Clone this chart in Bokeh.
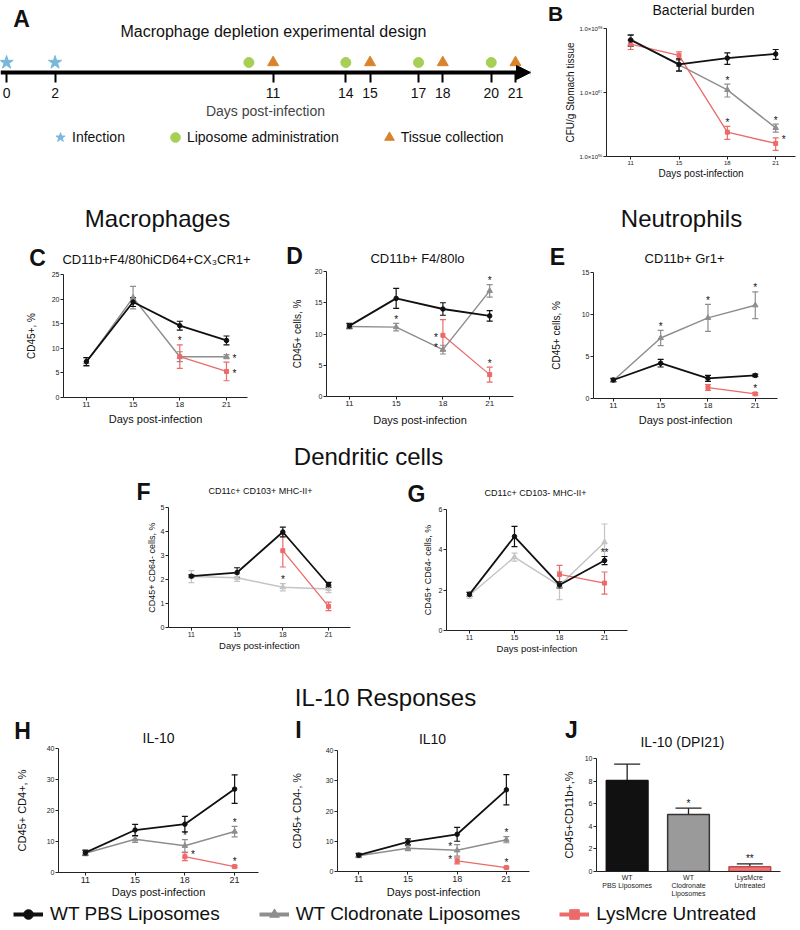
import numpy as np
from bokeh.plotting import figure
from bokeh.layouts import column, row
from bokeh.models import (Range1d, FactorRange, FixedTicker, Whisker, TeeHead,
                          ColumnDataSource, Label, Legend, LegendItem, Arrow,
                          NormalHead, CustomJSTickFormatter)
from bokeh.core.properties import value
from bokeh.embed import file_html
from bokeh.resources import INLINE

FONT = "Liberation Sans"
TXT = "#111111"

# ---------------- data ----------------
DAYS = ["11", "15", "18", "21"]
SERIES = {"PBS": "WT PBS Liposomes", "CLO": "WT Clodronate Liposomes", "LYS": "LysMcre Untreated"}

# A: experimental design (days)
TIMELINE_TICKS = [0, 2, 11, 14, 15, 17, 18, 20, 21]
INFECTION_DAYS = [0, 2]
LIPOSOME_DAYS = [10, 14, 17, 20]
COLLECTION_DAYS = [11, 15, 18, 21]
A_LEGEND = ["Infection", "Liposome administration", "Tissue collection"]

# B: bacterial burden, CFU/g
B_PBS = [6.6e7, 2.75e7, 3.45e7, 4.0e7]
B_PBS_SEM = [1.3e7, 0.6e7, 0.7e7, 0.7e7]
B_CLO = [6.8e7, 2.7e7, 1.1e7, 2.8e6]
B_CLO_SEM = [1.2e7, 0.5e7, 0.25e7, 0.4e6]
B_LYS = [5.7e7, 3.8e7, 2.4e6, 1.6e6]
B_LYS_SEM = [1.0e7, 0.5e7, 0.55e6, 0.35e6]
B_SIG = [("CLO", "18", "top", "*"), ("LYS", "18", "top", "*"),
         ("CLO", "21", "top", "*"), ("LYS", "21", "rtop", "*")]

# C: CD11b+F4/80hiCD64+CX3CR1+
C_PBS = [7.3, 19.4, 14.6, 11.6]
C_PBS_SEM = [0.8, 0.9, 0.9, 0.9]
C_CLO = [7.2, 20.3, 8.3, 8.3]
C_CLO_SEM = [0.9, 2.3, 1.0, 0.4]
C_LYS = [None, None, 8.3, 5.3]
C_LYS_SEM = [None, None, 2.4, 1.9]
C_SIG = [("LYS", "18", "top", "*"), ("CLO", "21", "right", "*"), ("LYS", "21", "right", "*")]

# D: CD11b+ F4/80lo
D_PBS = [11.3, 15.7, 14.0, 12.9]
D_PBS_SEM = [0.4, 1.6, 1.0, 0.85]
D_CLO = [11.2, 11.1, 7.5, 16.9]
D_CLO_SEM = [0.4, 0.6, 0.7, 1.0]
D_LYS = [None, None, 9.8, 3.5]
D_LYS_SEM = [None, None, 2.5, 1.2]
D_SIG = [("CLO", "15", "top", "*"), ("LYS", "18", "left", "*"), ("CLO", "18", "ltop", "*"),
         ("CLO", "21", "top", "*"), ("LYS", "21", "top", "*")]

# E: CD11b+ Gr1+
E_PBS = [2.2, 4.2, 2.4, 2.75]
E_PBS_SEM = [0.2, 0.45, 0.35, 0.15]
E_CLO = [2.15, 7.2, 9.6, 11.1]
E_CLO_SEM = [0.15, 0.9, 1.6, 1.6]
E_LYS = [None, None, 1.3, 0.55]
E_LYS_SEM = [None, None, 0.35, 0.15]
E_SIG = [("CLO", "15", "top", "*"), ("CLO", "18", "top", "*"), ("CLO", "21", "top", "*"),
         ("LYS", "21", "top", "*")]

# F: CD11c+ CD103+ MHC-II+
F_PBS = [2.14, 2.29, 3.98, 1.78]
F_PBS_SEM = [0.05, 0.2, 0.2, 0.1]
F_CLO = [2.12, 2.07, 1.68, 1.6]
F_CLO_SEM = [0.25, 0.15, 0.15, 0.15]
F_LYS = [None, None, 3.2, 0.88]
F_LYS_SEM = [None, None, 0.68, 0.18]
F_SIG = [("CLO", "18", "top", "*")]

# G: CD11c+ CD103- MHC-II+
G_PBS = [1.79, 4.66, 2.26, 3.47]
G_PBS_SEM = [0.1, 0.5, 0.15, 0.2]
G_CLO = [1.75, 3.64, 2.23, 4.38]
G_CLO_SEM = [0.15, 0.2, 0.7, 0.9]
G_LYS = [None, None, 2.78, 2.35]
G_LYS_SEM = [None, None, 0.45, 0.55]
G_SIG = [("PBS", "21", "top", "**")]

# H: IL-10, CD45+ CD4+
H_PBS = [6.4, 13.7, 15.6, 26.9]
H_PBS_SEM = [0.8, 1.8, 2.5, 4.6]
H_CLO = [6.2, 10.7, 8.6, 13.2]
H_CLO_SEM = [0.8, 1.0, 2.0, 1.7]
H_LYS = [None, None, 5.1, 1.9]
H_LYS_SEM = [None, None, 1.3, 0.3]
H_SIG = [("CLO", "18", "top", "*"), ("LYS", "18", "rtop", "*"),
         ("CLO", "21", "top", "*"), ("LYS", "21", "top", "*")]

# I: IL10, CD45+ CD4-
I_PBS = [5.4, 9.8, 12.3, 27.0]
I_PBS_SEM = [0.6, 1.0, 2.3, 5.0]
I_CLO = [5.2, 7.7, 7.0, 10.5]
I_CLO_SEM = [0.6, 0.8, 1.9, 1.0]
I_LYS = [None, None, 3.5, 1.3]
I_LYS_SEM = [None, None, 1.0, 0.2]
I_SIG = [("CLO", "18", "ltop", "*"), ("LYS", "18", "ltop", "*"),
         ("CLO", "21", "top", "*"), ("LYS", "21", "top", "*")]

# J: IL-10 (DPI21)
J_GROUPS = ["WT\nPBS Liposomes", "WT\nClodronate\nLiposomes", "LysMcre\nUntreated"]
J_VALUES = [8.06, 5.05, 0.43]
J_SEM = [1.45, 0.55, 0.24]
J_SIG = ["", "*", "**"]

# ---------------- styles ----------------
COLORS = {"PBS": "#111111", "CLO": "#8e8e8e", "LYS": "#ec6a6a"}
LIGHT_GRAY = "#c4c4c4"
MARKERS = {"PBS": "circle", "CLO": "triangle", "LYS": "square"}
MSIZE = {"PBS": 4.5, "CLO": 5.5, "LYS": 4}
LW = {"PBS": 1.8, "CLO": 1.5, "LYS": 1.3}
BAR_FILL = ["#111111", "#9a9a9a", "#f07373"]
BAR_LINE = ["#111111", "#333333", "#c54848"]
A_COLORS = ["#79b9d8", "#a5cf55", "#d9832c"]
A_MARKERS = ["star", "circle", "triangle"]
A_SIZES = [14, 10, 11]


def make_fig(outer, frame=None, xr=None, yr=None, log=False, axes=True):
    ox, oy, ow, oh = outer
    if frame is None:
        frame = (ox, oy, ox + ow, oy + oh)
    fl, ft, fr, fb = frame
    kw = {}
    if not axes:
        kw = dict(x_axis_location=None, y_axis_location=None)
    p = figure(width=ow, height=oh,
               x_range=xr if xr is not None else Range1d(0, 1),
               y_range=yr if yr is not None else Range1d(0, 1),
               y_axis_type="log" if log else "linear",
               output_backend="svg", toolbar_location=None,
               min_border_left=fl - ox, min_border_right=ox + ow - fr,
               min_border_top=ft - oy, min_border_bottom=oy + oh - fb, **kw)
    p.frame_align = False
    p.outline_line_color = None
    p.grid.visible = False
    return p


def header(outer, texts):
    p = make_fig(outer, axes=False)
    ox, oy, ow, oh = outer
    for X, Y, text, size, bold in texts:
        p.add_layout(Label(x=X - ox, y=oy + oh - Y, x_units="screen", y_units="screen",
                           text=text, text_font=FONT, text_font_size=f"{size}px",
                           text_font_style="bold" if bold else "normal", text_color=TXT,
                           text_align="center", text_baseline="middle"))
    return p


def style_axes(p, xt, yt, xl, yl, xls, yls, ylabel, yticks=None):
    for ax in p.axis:
        ax.axis_line_color = "#222222"
        ax.major_tick_line_color = "#222222"
        ax.minor_tick_line_color = None
        ax.major_tick_in = 0
        ax.major_tick_out = 3
        ax.major_label_standoff = 1
        ax.major_label_text_font = FONT
        ax.major_label_text_color = "#222222"
        ax.axis_label_text_font = FONT
        ax.axis_label_text_font_style = "normal"
        ax.axis_label_text_color = TXT
    p.xaxis.major_label_text_font_size = xt
    p.yaxis.major_label_text_font_size = yt
    p.xaxis.axis_label_text_font_size = xl
    p.yaxis.axis_label_text_font_size = yl
    p.xaxis.axis_label_standoff = xls
    p.yaxis.axis_label_standoff = yls
    p.yaxis.axis_label = ylabel
    if yticks is not None:
        p.yaxis.ticker = FixedTicker(ticks=yticks)


def draw_series(p, key, vals, sems, color):
    idx = [i for i, v in enumerate(vals) if v is not None]
    y = [vals[i] for i in idx]
    e = [sems[i] for i in idx]
    src = ColumnDataSource(dict(x=idx, y=y,
                                lo=[a - b for a, b in zip(y, e)],
                                hi=[a + b for a, b in zip(y, e)]))
    wl = 1.2
    p.add_layout(Whisker(source=src, base="x", upper="hi", lower="lo",
                         line_color=color, line_width=wl,
                         upper_head=TeeHead(size=6, line_color=color, line_width=wl),
                         lower_head=TeeHead(size=6, line_color=color, line_width=wl)))
    p.line("x", "y", source=src, line_color=color, line_width=LW[key])
    p.scatter("x", "y", source=src, marker=MARKERS[key], size=MSIZE[key],
              fill_color=color, line_color=color)


def draw_sig(p, sigs, data, size="10px"):
    xs, ys, xo, yo, tx = [], [], [], [], []
    for key, day, place, t in sigs:
        i = DAYS.index(day)
        m = data[key][0][i]
        e = data[key][1][i]
        if place == "top":
            xs.append(i); ys.append(m + e); xo.append(0); yo.append(-4)
        elif place == "rtop":
            xs.append(i); ys.append(m + e); xo.append(8); yo.append(2)
        elif place == "right":
            xs.append(i); ys.append(m); xo.append(8); yo.append(2)
        elif place == "ltop":
            xs.append(i); ys.append(m + e); xo.append(-7); yo.append(2)
        else:
            xs.append(i); ys.append(m); xo.append(-7); yo.append(2)
        tx.append(t)
    src = ColumnDataSource(dict(x=xs, y=ys, xo=xo, yo=yo, t=tx))
    p.text("x", "y", text="t", x_offset="xo", y_offset="yo", source=src,
           text_font=value(FONT), text_font_size=size, text_align="center",
           text_baseline="middle", text_color=TXT)


def line_panel(outer, frame, xr, yr, ylabel, data, sigs, yticks, gray=COLORS["CLO"],
               xt="8px", yt="7px", xl="11px", yl="10px", xls=3, yls=10, log=False):
    p = make_fig(outer, frame, Range1d(*xr), Range1d(*yr), log=log)
    style_axes(p, xt, yt, xl, yl, xls, yls, ylabel, yticks)
    p.xaxis.ticker = FixedTicker(ticks=list(range(len(DAYS))))
    p.xaxis.major_label_overrides = {i: d for i, d in enumerate(DAYS)}
    p.xaxis.axis_label = "Days post-infection"
    for key in ["CLO", "LYS", "PBS"]:
        col = gray if key == "CLO" else COLORS[key]
        draw_series(p, key, data[key][0], data[key][1], col)
    draw_sig(p, sigs, data)
    return p


# ---------------- A ----------------
pA_head = header((0, 0, 540, 44), [(21, 18, "A", 23, True),
                                   (273, 31, "Macrophage depletion experimental design", 16, False)])
A_FR = (0, 52, 530, 82)
axr = Range1d(-0.25, 21.62)
pA = make_fig((0, 44, 540, 78), A_FR, axr, Range1d(-1, 2))
pA.yaxis.visible = False
pA.add_layout(Arrow(end=NormalHead(size=14, fill_color="black", line_color="black"),
                    x_start=axr.start, y_start=0, x_end=axr.end, y_end=0,
                    line_width=4, line_color="black"))
for days, mk, sz, col in zip([INFECTION_DAYS, LIPOSOME_DAYS, COLLECTION_DAYS],
                             A_MARKERS, A_SIZES, A_COLORS):
    pA.scatter(days, [1] * len(days), marker=mk, size=sz, fill_color=col, line_color=col)
ax = pA.xaxis[0]
ax.ticker = FixedTicker(ticks=TIMELINE_TICKS)
ax.axis_line_color = None
ax.major_tick_in = 10
ax.major_tick_out = 0
ax.major_tick_line_width = 2
ax.major_tick_line_color = "black"
ax.minor_tick_line_color = None
ax.major_label_standoff = 5
ax.major_label_text_font = FONT
ax.major_label_text_font_size = "14px"
ax.major_label_text_color = TXT
ax.axis_label = "Days post-infection"
ax.axis_label_text_font = FONT
ax.axis_label_text_font_size = "14px"
ax.axis_label_text_font_style = "normal"
ax.axis_label_standoff = 2

pA_leg = make_fig((0, 122, 540, 63), axes=False)
a_items = []
for lab, mk, col in zip(A_LEGEND, A_MARKERS, A_COLORS):
    r = pA_leg.scatter(x=[5], y=[5], marker=mk, fill_color=col, line_color=col)  # off-canvas stub
    a_items.append(LegendItem(label=value(lab), renderers=[r]))
pA_leg.add_layout(Legend(items=a_items, location=(48, 36), orientation="horizontal",
                         glyph_width=24, glyph_height=24, label_standoff=0, spacing=38,
                         padding=0, margin=0, border_line_color=None, background_fill_alpha=0,
                         label_text_font=FONT, label_text_font_size="14px",
                         label_text_color=TXT))

# ---------------- B ----------------
pB_head = header((540, 0, 258, 25), [(555, 13, "B", 21, True), (703, 9, "Bacterial burden", 14, False)])
B_FR = (606, 28, 795, 156)
pB = line_panel((540, 25, 258, 160), B_FR, (-0.5, 3.41), (1e6, 1e8), "CFU/g Stomach tissue",
                {"PBS": (B_PBS, B_PBS_SEM), "CLO": (B_CLO, B_CLO_SEM), "LYS": (B_LYS, B_LYS_SEM)},
                B_SIG, [1e6, 1e7, 1e8], xt="6px", yt="6px", xl="10px", yl="10px",
                xls=0, yls=0, log=True)
pB.yaxis.formatter = CustomJSTickFormatter(code="""
const s = "\u2070\u00b9\u00b2\u00b3\u2074\u2075\u2076\u2077\u2078\u2079";
const d = String(Math.round(Math.log10(tick))).padStart(2, "0");
return "1.0\u00d710" + s[+d[0]] + s[+d[1]];
""")

# ---------------- C, D, E ----------------
pC_head = header((0, 185, 270, 86), [(157, 218, "Macrophages", 24, False),
                                     (37, 257, "C", 23, True),
                                     (156, 259, "CD11b+F4/80hiCD64+CX\u2083CR1+", 13, False)])
pC = line_panel((0, 271, 270, 169), (63, 274, 247, 397), (-0.49, 3.45), (0, 25), "CD45+, %",
                {"PBS": (C_PBS, C_PBS_SEM), "CLO": (C_CLO, C_CLO_SEM), "LYS": (C_LYS, C_LYS_SEM)},
                C_SIG, [0, 5, 10, 15, 20, 25], xls=3, yls=12)

pD_head = header((270, 185, 260, 83), [(294, 255, "D", 23, True),
                                       (417, 258, "CD11b+ F4/80lo", 13, False)])
pD = line_panel((270, 268, 260, 172), (326, 271, 513, 396), (-0.49, 3.51), (0, 20), "CD45+ cells, %",
                {"PBS": (D_PBS, D_PBS_SEM), "CLO": (D_CLO, D_CLO_SEM), "LYS": (D_LYS, D_LYS_SEM)},
                D_SIG, [0, 5, 10, 15, 20], xls=5, yls=9)

pE_head = header((530, 185, 268, 84), [(681, 218, "Neutrophils", 24, False),
                                       (557, 256, "E", 23, True),
                                       (684, 258, "CD11b+ Gr1+", 13, False)])
pE = line_panel((530, 269, 268, 171), (593, 272, 777, 398), (-0.42, 3.47), (0, 15), "CD45+ cells, %",
                {"PBS": (E_PBS, E_PBS_SEM), "CLO": (E_CLO, E_CLO_SEM), "LYS": (E_LYS, E_LYS_SEM)},
                E_SIG, [0, 5, 10, 15], xls=3, yls=17)

# ---------------- Dendritic cells ----------------
pDC = header((0, 440, 798, 30), [(368, 456, "Dendritic cells", 24, False)])

pF_head = header((0, 470, 400, 34), [(143, 491, "F", 23, True),
                                     (260, 490, "CD11c+ CD103+ MHC-II+", 9, False)])
pF = line_panel((0, 504, 400, 176), (168, 507, 350, 627), (-0.5, 3.48), (0, 5), "CD45+ CD64- cells, %",
                {"PBS": (F_PBS, F_PBS_SEM), "CLO": (F_CLO, F_CLO_SEM), "LYS": (F_LYS, F_LYS_SEM)},
                F_SIG, [0, 1, 2, 3, 4, 5], gray=LIGHT_GRAY, xt="7px", yt="7px",
                xl="9.5px", yl="9px", xls=0, yls=1)

pG_head = header((400, 470, 398, 36), [(416, 493, "G", 23, True),
                                       (535, 492, "CD11c+ CD103- MHC-II+", 9, False)])
pG = line_panel((400, 506, 398, 174), (446, 509, 627, 630), (-0.51, 3.51), (0, 6), "CD45+ CD64- cells, %",
                {"PBS": (G_PBS, G_PBS_SEM), "CLO": (G_CLO, G_CLO_SEM), "LYS": (G_LYS, G_LYS_SEM)},
                G_SIG, [0, 2, 4, 6], gray=LIGHT_GRAY, xt="7px", yt="7px",
                xl="9.5px", yl="9px", xls=0, yls=3)

# ---------------- H, I, J ----------------
pH_head = header((0, 680, 270, 65), [(22, 730, "H", 23, True), (158, 737, "IL-10", 14, False)])
pH = line_panel((0, 745, 270, 155), (58, 748, 258, 873), (-0.54, 3.48), (0, 40), "CD45+ CD4+, %",
                {"PBS": (H_PBS, H_PBS_SEM), "CLO": (H_CLO, H_CLO_SEM), "LYS": (H_LYS, H_LYS_SEM)},
                H_SIG, [0, 10, 20, 30, 40], xt="9px", yt="7px", xl="11px", yl="11px",
                xls=0, yls=16)

pI_head = header((270, 680, 260, 67), [(385, 697, "IL-10 Responses", 24, False),
                                       (298, 729, "I", 23, True), (432, 738, "IL10", 14, False)])
pI = line_panel((270, 747, 260, 153), (337, 750, 529, 873), (-0.43, 3.47), (0, 40), "CD45+ CD4-, %",
                {"PBS": (I_PBS, I_PBS_SEM), "CLO": (I_CLO, I_CLO_SEM), "LYS": (I_LYS, I_LYS_SEM)},
                I_SIG, [0, 10, 20, 30, 40], xt="9px", yt="7px", xl="11px", yl="10.5px",
                xls=1, yls=20)

pJ_head = header((530, 680, 268, 75), [(571, 729, "J", 23, True),
                                       (682, 741, "IL-10 (DPI21)", 14, False)])
J_FR = (596, 758, 780, 873)
pJ = make_fig((530, 755, 268, 145), J_FR, FactorRange(*J_GROUPS, range_padding=0), Range1d(0, 10))
style_axes(pJ, "7px", "7px", "10px", "11px", 0, 7, "CD45+CD11b+,%", [0, 2, 4, 6, 8, 10])
pJ.xaxis.major_tick_out = 0
pJ.xaxis.major_label_standoff = 2
jsrc = ColumnDataSource(dict(g=J_GROUPS, v=J_VALUES,
                             hi=[a + b for a, b in zip(J_VALUES, J_SEM)],
                             fill=BAR_FILL, line=BAR_LINE, t=J_SIG))
pJ.add_layout(Whisker(source=jsrc, base="g", upper="hi", lower="v", line_color="#222222",
                      line_width=1.3, lower_head=None,
                      upper_head=TeeHead(size=26, line_color="#222222", line_width=1.3)))
pJ.vbar(x="g", top="v", width=0.68, source=jsrc, fill_color="fill", line_color="line",
        line_width=1.5)
pJ.text(x="g", y="hi", text="t", source=jsrc, y_offset=-5, text_font=value(FONT),
        text_font_size="10px", text_align="center", text_baseline="middle", text_color=TXT)

# ---------------- bottom legend ----------------
pL = make_fig((0, 900, 798, 28), axes=False)
items = []
for key in ["PBS", "CLO", "LYS"]:
    col = COLORS[key]
    rl = pL.line(x=[5, 6], y=[5, 5], line_color=col, line_width=4)  # off-canvas stubs
    rm = pL.scatter(x=[5], y=[5], marker=MARKERS[key], fill_color=col, line_color=col)
    items.append(LegendItem(label=value(SERIES[key]), renderers=[rl, rm]))
pL.add_layout(Legend(items=items, location=(13, 2), orientation="horizontal",
                     glyph_width=30, glyph_height=24, label_standoff=7, spacing=39,
                     padding=0, margin=0, border_line_color=None, background_fill_alpha=0,
                     label_text_font=FONT, label_text_font_size="19px", label_text_color=TXT))

layout = column(
    row(column(pA_head, pA, pA_leg), column(pB_head, pB)),
    row(column(pC_head, pC), column(pD_head, pD), column(pE_head, pE)),
    pDC,
    row(column(pF_head, pF), column(pG_head, pG)),
    row(column(pH_head, pH), column(pI_head, pI), column(pJ_head, pJ)),
    pL,
)

open("out.html", "w", encoding="utf-8").write(file_html(layout, INLINE, title="Macrophage depletion"))
